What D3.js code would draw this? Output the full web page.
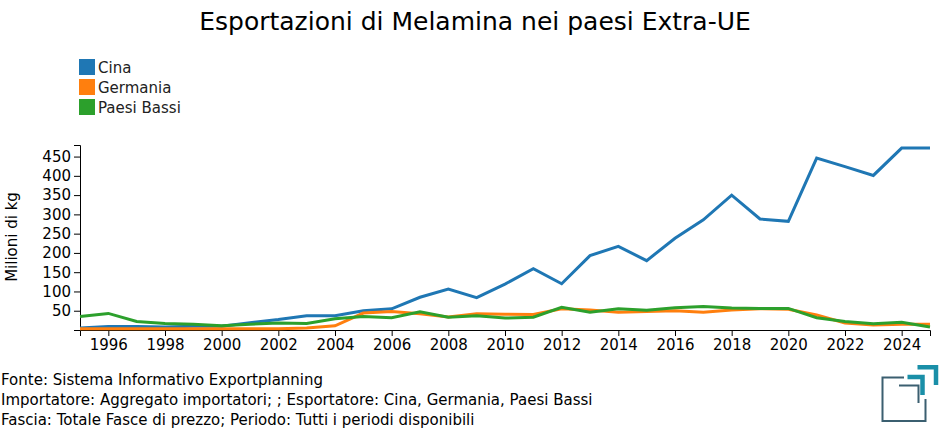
<!DOCTYPE html>
<html><head><meta charset="utf-8">
<script src="https://cdn.jsdelivr.net/npm/d3@7"></script>
<style>body{margin:0;background:#fff;font-family:"DejaVu Sans",sans-serif;}</style>
</head><body>
<svg id="c" width="950" height="435"></svg>
<script>
const years = d3.range(1995, 2026);
const cina = [5,9,9,8,10,10,19,27,37,37,50,55,85,106,84,119,159,120,193,217,180,238,286,350,288,282,446,424,401,472,472];
const germania = [3,3,3,3,3,3,3,3,5,11,44,48,42,34,42,41,40,55,52,46,48,50,46,52,55,54,39,18,13,15,15];
const paesiBassi = [35,43,22,17,15,11,15,18,17,29,35,32,47,33,37,31,33,59,46,55,51,58,61,57,56,56,32,22,16,20,8];
const seriesNames = ["Cina","Germania","Paesi Bassi"];
const colors = ["#1f77b4","#ff7f0e","#2ca02c"];
const yTicks = [50,100,150,200,250,300,350,400,450];
const xTicks = [1996,1998,2000,2002,2004,2006,2008,2010,2012,2014,2016,2018,2020,2022,2024];
const footer = ["Fonte: Sistema Informativo Exportplanning","Importatore: Aggregato importatori; ; Esportatore: Cina, Germania, Paesi Bassi","Fascia: Totale Fasce di prezzo; Periodo: Tutti i periodi disponibili"];

const svg = d3.select("#c");
const x = d3.scaleLinear().domain([1995,2025]).range([80,930]);
const y = d3.scaleLinear().domain([0,480]).range([330,145]);

svg.append("text").attr("x",475).attr("y",30).attr("text-anchor","middle")
  .attr("font-size",25).attr("fill","#000").text("Esportazioni di Melamina nei paesi Extra-UE");

const lg = svg.append("g");
seriesNames.forEach((n,i)=>{
  lg.append("rect").attr("x",79).attr("y",59+i*20).attr("width",16).attr("height",16).attr("fill",colors[i]);
  lg.append("text").attr("x",98).attr("y",73+i*20).attr("font-size",15).attr("fill","#222").text(n);
});

svg.append("g").attr("transform","translate(80,0)")
  .call(d3.axisLeft(y).tickValues(yTicks).tickSize(6).tickSizeOuter(6))
  .call(g=>g.selectAll("text").attr("font-size",15).attr("fill","#000").attr("font-family","DejaVu Sans"));
svg.append("g").attr("transform","translate(0,330)")
  .call(d3.axisBottom(x).tickValues(xTicks).tickFormat(d3.format("d")).tickSize(6).tickSizeOuter(6))
  .call(g=>g.selectAll("text").attr("font-size",15).attr("fill","#000").attr("font-family","DejaVu Sans"));

svg.append("text").attr("transform","translate(17,237) rotate(-90)").attr("text-anchor","middle")
  .attr("font-size",15).attr("fill","#000").text("Milioni di kg");

const line = d3.line().x((d,i)=>x(years[i])).y(d=>y(d));
[cina,germania,paesiBassi].forEach((s,i)=>{
  svg.append("path").datum(s).attr("d",line).attr("fill","none")
    .attr("stroke",colors[i]).attr("stroke-width",3);
});
footer.forEach((t,i)=>{
  svg.append("text").attr("x",1).attr("y",385+i*20).attr("font-size",15).attr("fill","#000").text(t);
});

// logo
const lgo = svg.append("g");
const dark = "#3b5f70", teal = "#1a8fa8";
lgo.append("path").attr("d","M904,377.5 H882.5 V421 H925.5 V399").attr("fill","none").attr("stroke",dark).attr("stroke-width",2);
lgo.append("path").attr("d","M899,385.5 H918.5 V403").attr("fill","none").attr("stroke",dark).attr("stroke-width",2);
lgo.append("path").attr("d","M907.5,377 H922.5 V395").attr("fill","none").attr("stroke",teal).attr("stroke-width",4.5);
lgo.append("path").attr("d","M917.5,367.3 H936 V385").attr("fill","none").attr("stroke",teal).attr("stroke-width",4.5);
</script>
</body></html>
